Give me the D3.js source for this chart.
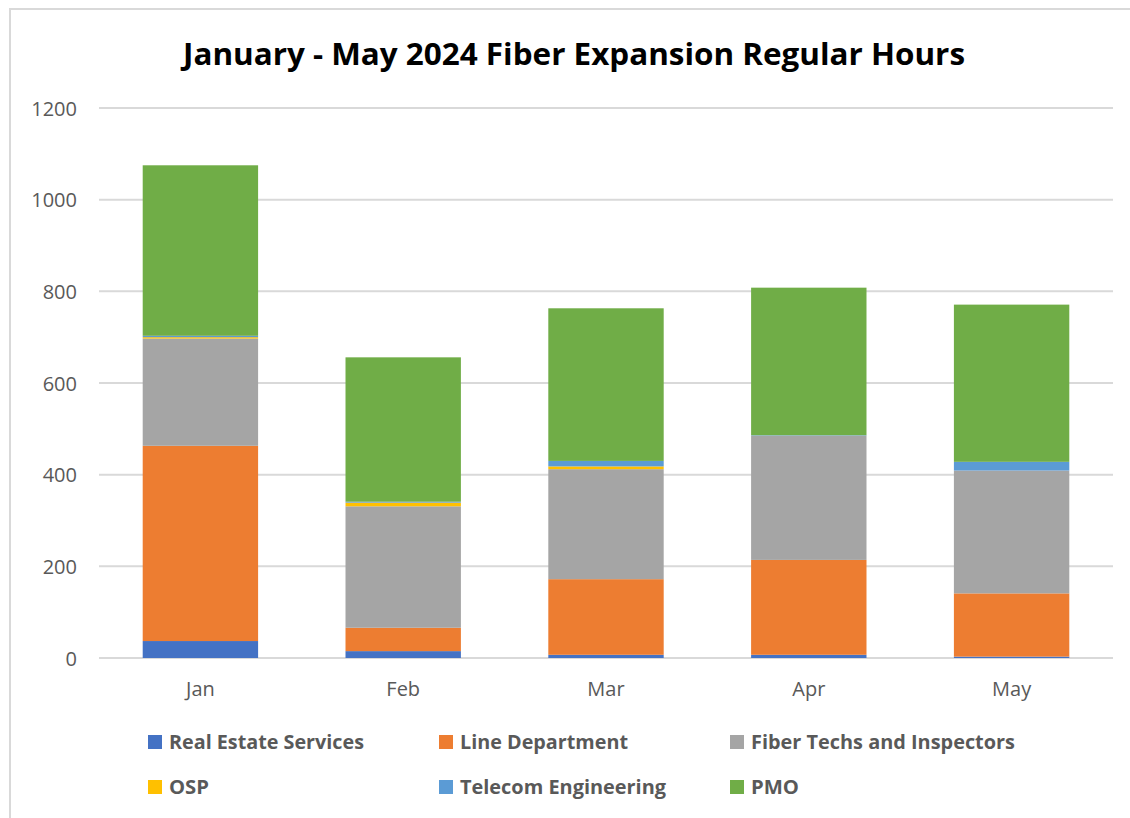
<!DOCTYPE html>
<html><head><meta charset="utf-8">
<script src="https://cdn.jsdelivr.net/npm/d3@7"></script>
<style>body{margin:0;background:#fff;} svg{display:block;}</style>
</head><body>
<svg id="chart" width="1130" height="818"></svg>
<script>
const months = ["Jan","Feb","Mar","Apr","May"];
const seriesNames = ["Real Estate Services","Line Department","Fiber Techs and Inspectors","OSP","Telecom Engineering","PMO"];
const realEstate = [37, 15, 7, 7, 3];
const lineDept   = [426, 51, 165, 207, 138];
const fiberTechs = [234, 265, 240, 271, 268];
const osp        = [3, 8, 6, 0, 0];
const telecom    = [3, 2, 12, 1, 19];
const pmo        = [372, 315, 333, 322, 343];
const yTicks = [0, 200, 400, 600, 800, 1000, 1200];
const colors = ["#4472C4","#ED7D31","#A5A5A5","#FFC000","#5B9BD5","#70AD47"];
const titleText = "January - May 2024 Fiber Expansion Regular Hours";

const allSeries = [realEstate, lineDept, fiberTechs, osp, telecom, pmo];
const rows = months.map((m, i) => {
  const r = {month: m};
  seriesNames.forEach((s, j) => r[s] = allSeries[j][i]);
  return r;
});

const svg = d3.select("#chart");
const font = "'Open Sans', 'Liberation Sans', sans-serif";

// chart border
svg.append("rect").attr("x", 10).attr("y", 9).attr("width", 1140).attr("height", 830)
  .attr("fill", "#fff").attr("stroke", "#d9d9d9").attr("stroke-width", 2);

const x = d3.scaleBand().domain(months).range([99, 1113]).paddingInner(0.431).paddingOuter(0.2155);
const y = d3.scaleLinear().domain([0, 1200]).range([658, 108]);

// gridlines
svg.append("g").selectAll("line").data(yTicks).join("line")
  .attr("x1", 99).attr("x2", 1113)
  .attr("y1", d => y(d)).attr("y2", d => y(d))
  .attr("stroke", "#d9d9d9").attr("stroke-width", 2);

// y axis labels
const yAxis = d3.axisLeft(y).tickValues(yTicks).tickFormat(d3.format("d")).tickSize(0).tickPadding(0);
const yg = svg.append("g").attr("transform", "translate(77,0)").call(yAxis);
yg.select(".domain").remove();
yg.selectAll("text").attr("font-family", font).attr("font-size", 20).attr("fill", "#595959").attr("dy", "0.35em");

// x axis labels
const xAxis = d3.axisBottom(x).tickSize(0).tickPadding(0);
const xg = svg.append("g").attr("transform", "translate(0,682)").call(xAxis);
xg.select(".domain").remove();
xg.selectAll("text").attr("font-family", font).attr("font-size", 20).attr("fill", "#595959").attr("dy", "0.71em");

// stacked bars
const stack = d3.stack().keys(seriesNames);
const stacked = stack(rows);
svg.append("g").selectAll("g").data(stacked).join("g")
  .attr("fill", (d, i) => colors[i])
  .selectAll("rect").data(d => d).join("rect")
  .attr("x", d => x(d.data.month))
  .attr("width", x.bandwidth())
  .attr("y", d => y(d[1]))
  .attr("height", d => Math.max(0, y(d[0]) - y(d[1])));

// title
svg.append("text").attr("x", 574).attr("y", 65).attr("text-anchor", "middle")
  .attr("font-family", font).attr("font-weight", "bold").attr("font-size", 31)
  .attr("fill", "#000").attr("textLength", 782).attr("lengthAdjust", "spacingAndGlyphs")
  .text(titleText);

// legend
const legX = [148, 439, 730];
const legY = [742, 787];
const legW = [195, 168, 264, 40, 206, 48];
const leg = svg.append("g").selectAll("g").data(seriesNames).join("g")
  .attr("transform", (d, i) => `translate(${legX[i % 3]},${legY[Math.floor(i / 3)]})`);
leg.append("rect").attr("x", 0).attr("y", -7).attr("width", 14).attr("height", 14)
  .attr("fill", (d, i) => colors[i]);
leg.append("text").attr("x", 21).attr("y", 0).attr("dy", "0.36em")
  .attr("font-family", font).attr("font-weight", "bold").attr("font-size", 19)
  .attr("fill", "#595959")
  .attr("textLength", (d, i) => legW[i]).attr("lengthAdjust", "spacingAndGlyphs")
  .text(d => d);
</script>
</body></html>
